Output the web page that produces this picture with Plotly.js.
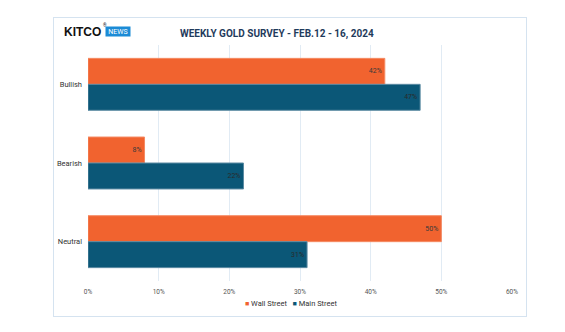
<!DOCTYPE html>
<html>
<head>
<meta charset="utf-8">
<script src="https://cdn.plot.ly/plotly-3.0.1.min.js"></script>
<style>
html,body{margin:0;padding:0;background:#fff;}
#wrap{position:relative;width:565px;height:332px;}
#frame{position:absolute;left:53px;top:17px;width:472px;height:298px;border:1px solid #d5e3f0;box-sizing:content-box;pointer-events:none;}
#chart{position:absolute;left:0;top:0;width:565px;height:332px;}
</style>
</head>
<body>
<div id="wrap">
<div id="chart"></div>
<div id="frame"></div>
</div>
<script>
const categories = ['Bullish', 'Bearish', 'Neutral'];
const wallStreet = [42, 8, 50];
const mainStreet = [47, 22, 31];
const seriesNames = ['Wall Street', 'Main Street'];
const seriesColors = ['#f1632f', '#0b5777'];
const tickVals = [0, 10, 20, 30, 40, 50, 60];
const tickText = ['0%', '10%', '20%', '30%', '40%', '50%', '60%'];
const titleText = 'WEEKLY GOLD SURVEY - FEB.12 - 16, 2024';

const FONT = 'Roboto, "Open Sans", sans-serif';

const traces = [
  {
    type: 'bar', orientation: 'h', name: seriesNames[0],
    y: categories, x: wallStreet,
    text: wallStreet.map(v => v + '%'),
    textposition: 'inside', insidetextanchor: 'end',
    textfont: {size: 7, color: '#3a3a3a', family: FONT},
    marker: {color: seriesColors[0], line: {color: '#f58a63', width: 1}},
    hoverinfo: 'none'
  },
  {
    type: 'bar', orientation: 'h', name: seriesNames[1],
    y: categories, x: mainStreet,
    text: mainStreet.map(v => v + '%'),
    textposition: 'inside', insidetextanchor: 'end',
    textfont: {size: 7, color: '#2a2a2a', family: FONT},
    marker: {color: seriesColors[1], line: {color: '#5c8ba3', width: 1}},
    hoverinfo: 'none'
  }
];

const legendText = seriesNames.map((n, i) =>
  '<span style="color:' + seriesColors[i] + ';font-size:7px">■</span> ' + n).join('   ');

const layout = {
  width: 565, height: 332,
  paper_bgcolor: 'rgba(0,0,0,0)', plot_bgcolor: 'rgba(0,0,0,0)',
  margin: {l: 88, r: 53, t: 45, b: 51, autoexpand: false},
  barmode: 'group', bargap: 0.34, bargroupgap: 0,
  showlegend: false,
  title: {text: '<b>' + titleText + '</b>', x: 0.49, xanchor: 'center', y: 0.9, yanchor: 'middle',
          font: {size: 10, color: '#1f3b5c', family: FONT}},
  xaxis: {range: [0, 60], tickvals: tickVals, ticktext: tickText,
          showgrid: true, gridcolor: '#e1ebf4', gridwidth: 1, zeroline: false,
          showline: false, ticks: '', ticklabelstandoff: 5,
          tickfont: {size: 6.5, color: '#555', family: FONT},
          fixedrange: true},
  yaxis: {autorange: 'reversed', type: 'category', showgrid: false, zeroline: false,
          ticks: '', ticklabelstandoff: 5, tickfont: {size: 7.5, color: '#333', family: FONT},
          fixedrange: true},
  annotations: [
    {xref: 'paper', yref: 'paper', x: 0.479, y: -0.097, xanchor: 'center', yanchor: 'middle',
     text: legendText, showarrow: false, font: {size: 7.5, color: '#333', family: FONT}},
    {xref: 'paper', yref: 'paper', x: -0.062, y: 1.055, xanchor: 'left', yanchor: 'middle',
     text: '<b>KITCO</b>', showarrow: false, font: {size: 12, color: '#111', family: 'Arial, "Liberation Sans", sans-serif'}},
    {xref: 'paper', yref: 'paper', x: 0.0315, y: 1.085, xanchor: 'left', yanchor: 'middle',
     text: '®', showarrow: false, font: {size: 4.5, color: '#111', family: FONT}},
    {xref: 'paper', yref: 'paper', x: 0.0395, y: 1.057, xanchor: 'left', yanchor: 'middle',
     text: ' NEWS ', showarrow: false, bgcolor: '#1b8bd6', borderpad: 0.5,
     font: {size: 7, color: '#ffffff', family: FONT}}
  ]
};

Plotly.newPlot('chart', traces, layout, {displayModeBar: false, staticPlot: true});
</script>
</body>
</html>
